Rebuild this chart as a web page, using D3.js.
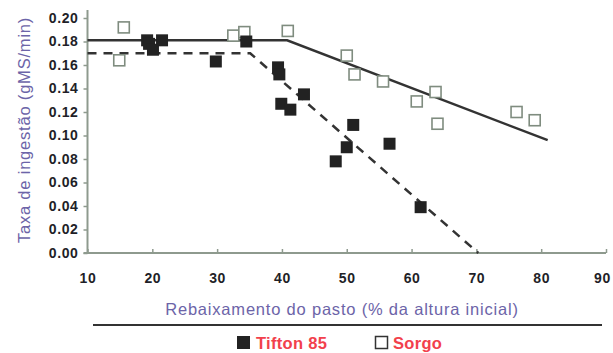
<!DOCTYPE html>
<html>
<head>
<meta charset="utf-8">
<script src="https://cdn.jsdelivr.net/npm/d3@7"></script>
<style>
  body { margin: 0; background: #fff; }
  svg { display: block; font-family: "Liberation Sans", Arial, sans-serif; }
</style>
</head>
<body>
<svg id="chart" width="613" height="353"></svg>
<script>
  // x = rebaixamento (%), y = taxa de ingestao (gMS/min)
  const tiftonX = [19.2, 19.5, 20.1, 21.5, 29.8, 34.5, 39.4, 39.6, 39.9, 41.3, 43.4, 48.3, 50.0, 51.0, 56.6, 61.4];
  const tiftonY = [0.181, 0.178, 0.173, 0.181, 0.163, 0.180, 0.158, 0.152, 0.127, 0.122, 0.135, 0.078, 0.090, 0.109, 0.093, 0.039];
  const sorgoX = [15.6, 14.9, 32.5, 34.2, 40.9, 50.0, 51.2, 55.6, 60.8, 63.7, 64.0, 76.2, 79.0];
  const sorgoY = [0.192, 0.164, 0.185, 0.188, 0.189, 0.168, 0.152, 0.146, 0.129, 0.137, 0.110, 0.120, 0.113];
  // fitted broken-line models
  const sorgoFit = [[10, 0.181], [40.8, 0.181], [81, 0.096]];
  const tiftonFit = [[10, 0.170], [35.1, 0.170], [70.3, 0]];

  const xTicks = [10, 20, 30, 40, 50, 60, 70, 80, 90];
  const yTicks = [0, 0.02, 0.04, 0.06, 0.08, 0.10, 0.12, 0.14, 0.16, 0.18, 0.20];

  const svg = d3.select('#chart');
  const x = d3.scaleLinear().domain([10, 90]).range([87.5, 606]);
  const y = d3.scaleLinear().domain([0, 0.20]).range([253, 18]);

  const axisColor = '#8e9a8e';

  // y axis
  const yAxis = svg.append('g').attr('transform', `translate(${x(10)},0)`)
    .call(d3.axisLeft(y).tickValues(yTicks).tickFormat(d3.format('.2f')).tickSize(4).tickPadding(6));
  yAxis.select('.domain').remove();
  yAxis.append('line').attr('x1', 0).attr('x2', 0).attr('y1', 10).attr('y2', y(0))
    .attr('stroke', axisColor).attr('stroke-width', 2);

  // x axis
  const xAxis = svg.append('g').attr('transform', `translate(0,${y(0)})`)
    .call(d3.axisBottom(x).tickValues(xTicks).tickSize(-4).tickPadding(20));
  xAxis.select('.domain').remove();
  xAxis.append('line').attr('x1', x(10) - 4).attr('x2', x(90)).attr('y1', 0).attr('y2', 0)
    .attr('stroke', axisColor).attr('stroke-width', 2);

  svg.selectAll('.tick line').attr('stroke', axisColor).attr('stroke-width', 1.5);
  svg.selectAll('.tick text')
    .attr('fill', '#1f1f28').attr('font-size', 14).attr('font-weight', 'bold')
    .attr('letter-spacing', 0.6)
    .attr('font-family', '"Liberation Sans", Arial, sans-serif');
  yAxis.selectAll('.tick text').attr('dx', 1);
  // keep the last label inside the page
  xAxis.selectAll('.tick text').filter(d => d === 90).attr('dx', -4);

  // fit lines
  const line = d3.line().x(d => x(d[0])).y(d => y(d[1]));
  svg.append('path').datum(sorgoFit).attr('d', line)
    .attr('fill', 'none').attr('stroke', '#333').attr('stroke-width', 2.5);
  svg.append('path').datum(tiftonFit).attr('d', line)
    .attr('fill', 'none').attr('stroke', '#333').attr('stroke-width', 2.5)
    .attr('stroke-dasharray', '9,7');

  // points
  const s = 11;
  svg.selectAll('rect.sorgo').data(sorgoX).enter().append('rect')
    .attr('class', 'sorgo')
    .attr('x', (d) => x(d) - s / 2)
    .attr('y', (d, i) => y(sorgoY[i]) - s / 2)
    .attr('width', s).attr('height', s)
    .attr('fill', '#fff').attr('stroke', '#7f8c7f').attr('stroke-width', 1.6);

  svg.selectAll('rect.tifton').data(tiftonX).enter().append('rect')
    .attr('class', 'tifton')
    .attr('x', (d) => x(d) - 6)
    .attr('y', (d, i) => y(tiftonY[i]) - 6)
    .attr('width', 12).attr('height', 12)
    .attr('fill', '#222');

  // axis titles
  svg.append('text')
    .attr('transform', 'translate(30,130) rotate(-90)')
    .attr('text-anchor', 'middle')
    .attr('fill', '#6c64a8').attr('font-size', 16.5).attr('letter-spacing', 0.8)
    .text('Taxa de ingestão (gMS/min)');

  svg.append('text')
    .attr('x', 342).attr('y', 315)
    .attr('text-anchor', 'middle')
    .attr('fill', '#6c64a8').attr('font-size', 16.5).attr('letter-spacing', 0.8)
    .text('Rebaixamento do pasto (% da altura inicial)');

  // separator
  svg.append('line').attr('x1', 93).attr('x2', 602).attr('y1', 325).attr('y2', 325)
    .attr('stroke', '#333').attr('stroke-width', 2);

  // legend
  const legend = svg.append('g');
  legend.append('rect').attr('x', 237).attr('y', 336).attr('width', 13).attr('height', 13).attr('fill', '#222');
  legend.append('text').attr('x', 256).attr('y', 349)
    .attr('fill', '#f2404c').attr('font-size', 16.5).attr('font-weight', 'bold').attr('letter-spacing', 0.3)
    .text('Tifton 85');
  legend.append('rect').attr('x', 375.5).attr('y', 336.5).attr('width', 12).attr('height', 12)
    .attr('fill', '#fff').attr('stroke', '#333').attr('stroke-width', 1.5);
  legend.append('text').attr('x', 393).attr('y', 349)
    .attr('fill', '#f2404c').attr('font-size', 16.5).attr('font-weight', 'bold').attr('letter-spacing', 0.3)
    .text('Sorgo');
</script>
</body>
</html>
